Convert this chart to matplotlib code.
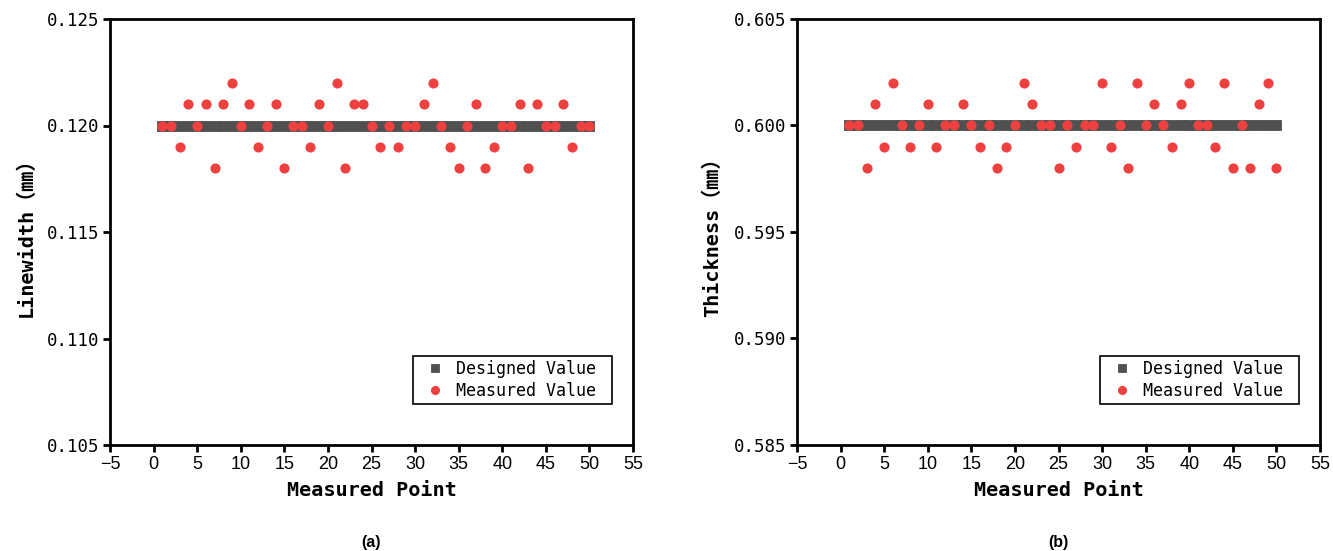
import matplotlib
matplotlib.use("Agg")
import matplotlib.pyplot as plt
from matplotlib.ticker import FormatStrFormatter
from matplotlib.patches import Rectangle

points = list(range(1, 51))

linewidth_design = [0.120] * 50
linewidth_measured = [
    0.120, 0.120, 0.119, 0.121, 0.120, 0.121, 0.118, 0.121, 0.122, 0.120,
    0.121, 0.119, 0.120, 0.121, 0.118, 0.120, 0.120, 0.119, 0.121, 0.120,
    0.122, 0.118, 0.121, 0.121, 0.120, 0.119, 0.120, 0.119, 0.120, 0.120,
    0.121, 0.122, 0.120, 0.119, 0.118, 0.120, 0.121, 0.118, 0.119, 0.120,
    0.120, 0.121, 0.118, 0.121, 0.120, 0.120, 0.121, 0.119, 0.120, 0.120,
]

thickness_design = [0.600] * 50
thickness_measured = [
    0.600, 0.600, 0.598, 0.601, 0.599, 0.602, 0.600, 0.599, 0.600, 0.601,
    0.599, 0.600, 0.600, 0.601, 0.600, 0.599, 0.600, 0.598, 0.599, 0.600,
    0.602, 0.601, 0.600, 0.600, 0.598, 0.600, 0.599, 0.600, 0.600, 0.602,
    0.599, 0.600, 0.598, 0.602, 0.600, 0.601, 0.600, 0.599, 0.601, 0.602,
    0.600, 0.600, 0.599, 0.602, 0.598, 0.600, 0.598, 0.601, 0.602, 0.598,
]

x_ticks = [-5, 0, 5, 10, 15, 20, 25, 30, 35, 40, 45, 50, 55]
lw_ticks = [0.105, 0.110, 0.115, 0.120, 0.125]
th_ticks = [0.585, 0.590, 0.595, 0.600, 0.605]

MONO = ["DejaVu Sans Mono", "Noto Sans CJK SC"]
GRAY = "#505050"
RED = "#EF4040"

fig = plt.figure(figsize=(13.33, 5.51), dpi=100)
W, H = 1333, 551
AX_W, AX_H = 523, 426

panels = [
    (110, linewidth_design, linewidth_measured, lw_ticks, "Linewidth（㎜）", "(a)"),
    (797, thickness_design, thickness_measured, th_ticks, "Thickness（㎜）", "(b)"),
]

for left_px, design, measured, yticks, ylabel, cap in panels:
    ax = fig.add_axes([left_px / W, (H - 445) / H, AX_W / W, AX_H / H])
    ax.plot(points, design, linestyle="none", marker="s", ms=6.6,
            color=GRAY, mec=GRAY, mew=0.6, label="Designed Value", zorder=2)
    ax.plot(points, measured, linestyle="none", marker="o", ms=7.3,
            color=RED, mec="none", label="Measured Value", zorder=3)
    ax.set_xlim(-5, 55)
    ax.set_ylim(yticks[0], yticks[-1])
    ax.set_xticks(x_ticks)
    ax.set_yticks(yticks)
    ax.yaxis.set_major_formatter(FormatStrFormatter("%.3f"))
    for s in ax.spines.values():
        s.set_linewidth(2.0)
    ax.tick_params(axis="both", direction="out", length=5, width=2,
                   top=False, right=False, pad=3)
    for lab in ax.get_xticklabels():
        lab.set_fontfamily(["Liberation Sans"])
        lab.set_fontsize(13)
    for lab in ax.get_yticklabels():
        lab.set_fontfamily(MONO)
        lab.set_fontsize(12.5)
    ax.set_xlabel("Measured Point", fontsize=14.5, fontweight="bold",
                  family=MONO, labelpad=6)
    ax.set_ylabel(ylabel, fontsize=14.5, fontweight="bold",
                  family=MONO, labelpad=8)

    # legend frame drawn as a box, legend entries placed inside it
    box_l, box_w, box_b, box_h = 303, 199, 41, 48
    ax.add_patch(Rectangle((box_l / AX_W, box_b / AX_H), box_w / AX_W, box_h / AX_H,
                           transform=ax.transAxes, fill=True, facecolor="white",
                           edgecolor="black", linewidth=1.2, zorder=4))
    leg = ax.legend(loc="center left",
                    bbox_to_anchor=((box_l + 14) / AX_W, (box_b + box_h / 2) / AX_H),
                    borderaxespad=0, frameon=False,
                    prop={"family": MONO, "size": 12},
                    handlelength=1.0, handletextpad=0.75, labelspacing=0.25,
                    borderpad=0, markerscale=0.9)
    leg.set_zorder(5)
    cx = (left_px + AX_W / 2) / W
    fig.text(cx, 1 - 543 / H, cap, ha="center", va="center",
             fontsize=11.5, fontweight="bold", family=["Liberation Sans"])

fig.savefig("out.png", dpi=100)
